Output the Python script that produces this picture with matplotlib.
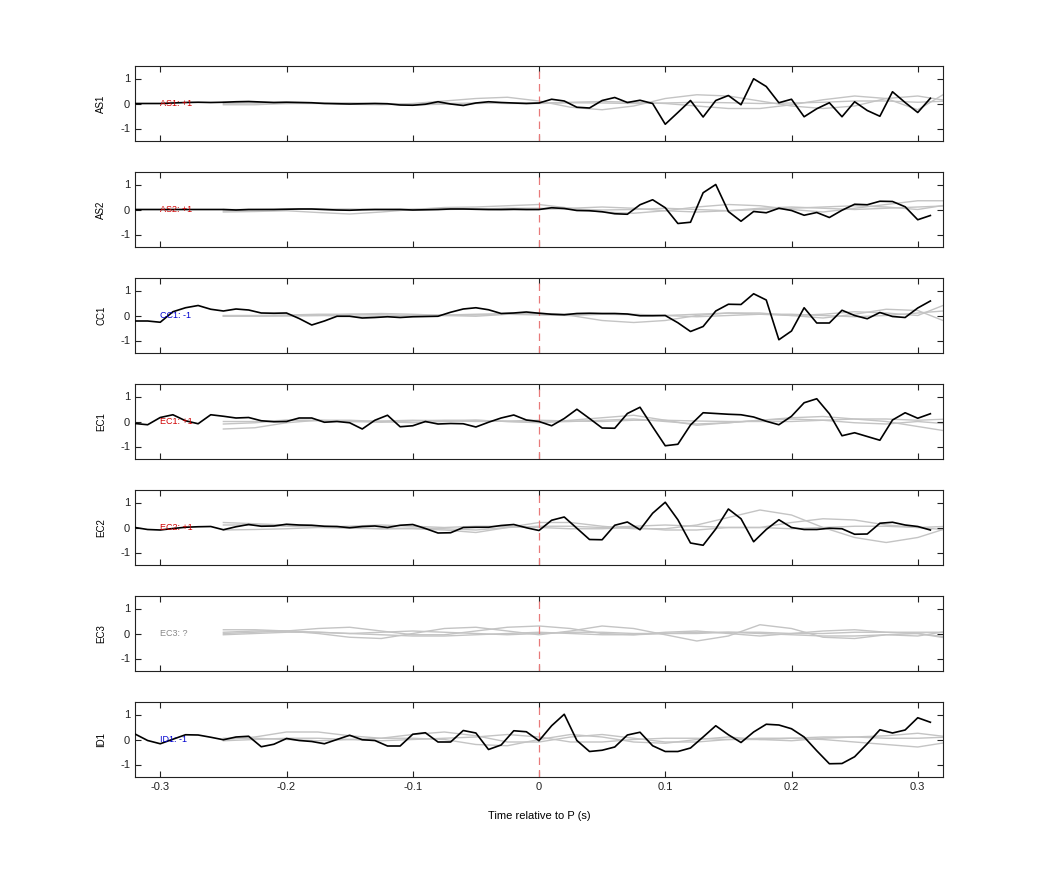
import numpy as np
import matplotlib
matplotlib.use("Agg")
import matplotlib.pyplot as plt

plt.rcParams['font.family'] = ['Liberation Sans', 'DejaVu Sans']
plt.rcParams['axes.unicode_minus'] = False

t_black = np.round(np.arange(-0.32, 0.315, 0.01), 2)
t_gray = np.round(np.arange(-0.25, 0.33, 0.025), 3)

stations = ["AS1", "AS2", "CC1", "EC1", "EC2", "EC3", "ID1"]
labels = ["AS1: +1", "AS2: +1", "CC1: -1", "EC1: +1", "EC2: +1", "EC3: ?", "ID1: -1"]
label_colors = ["#d00000", "#d00000", "#0000d0", "#d00000", "#d00000", "#888888", "#0000d0"]

AS1 = [0,0,0,0.02,0.04,0.05,0.04,0.05,0.07,0.08,0.06,0.04,0.05,0.04,0.03,0.0,-0.01,-0.02,-0.01,0.0,-0.01,-0.06,-0.07,-0.03,0.07,-0.02,-0.08,0.02,0.07,0.04,0.02,0.0,
       0.02,0.17,0.1,-0.15,-0.18,0.12,0.24,0.04,0.13,0,-0.83,-0.36,0.12,-0.54,0.12,0.32,-0.05,0.99,0.68,0.03,0.17,-0.53,-0.21,0.03,-0.53,0.07,-0.28,-0.51,0.47,0.04,-0.36,0.21]
AS2 = [0,0,0,0,0,0,0,0,-0.02,0,0.0,0.0,0.01,0.02,0.02,0.0,-0.02,-0.03,-0.01,0.0,0.0,0.0,-0.02,-0.01,0.0,0.02,0.02,0.01,0.0,0.0,0.01,0.0,
       0,0.07,0.04,-0.04,-0.05,-0.09,-0.17,-0.19,0.19,0.39,0.07,-0.56,-0.51,0.67,1.0,-0.08,-0.47,-0.08,-0.13,0.05,-0.04,-0.23,-0.12,-0.32,-0.03,0.21,0.19,0.33,0.32,0.11,-0.41,-0.24]
CC1 = [-0.22,-0.22,-0.27,0.15,0.31,0.4,0.25,0.18,0.26,0.22,0.1,0.09,0.1,-0.12,-0.38,-0.22,-0.03,-0.03,-0.1,-0.08,-0.05,-0.08,-0.05,-0.04,-0.03,0.13,0.26,0.31,0.23,0.08,0.1,0.14,
       0.09,0.05,0.03,0.08,0.09,0.08,0.08,0.06,-0.01,-0.01,0,-0.29,-0.64,-0.44,0.18,0.45,0.44,0.87,0.62,-0.97,-0.62,0.31,-0.3,-0.3,0.21,0,-0.13,0.12,-0.04,-0.08,0.3,0.58]
EC1 = [-0.08,-0.13,0.16,0.27,0.03,-0.09,0.27,0.21,0.14,0.16,0.03,-0.01,0,0.14,0.14,-0.03,0,-0.05,-0.3,0.05,0.25,-0.21,-0.17,0,-0.1,-0.08,-0.09,-0.22,-0.03,0.14,0.26,0.06,
       0,-0.17,0.12,0.49,0.12,-0.26,-0.27,0.32,0.57,-0.21,-0.97,-0.91,-0.14,0.35,0.32,0.29,0.27,0.18,0.01,-0.13,0.21,0.75,0.91,0.31,-0.57,-0.45,-0.6,-0.75,0.06,0.35,0.13,0.31]
EC2 = [0,-0.08,-0.1,-0.04,0.01,0.03,0.04,-0.09,0.03,0.12,0.05,0.06,0.13,0.1,0.09,0.05,0.04,-0.01,0.04,0.06,0,0.09,0.12,-0.04,-0.22,-0.21,0,0.01,0.01,0.08,0.12,-0.01,
       -0.12,0.29,0.42,-0.03,-0.48,-0.49,0.09,0.22,-0.09,0.57,1.01,0.31,-0.62,-0.71,-0.06,0.74,0.35,-0.57,-0.08,0.31,0,-0.08,-0.08,-0.03,-0.05,-0.27,-0.26,0.17,0.21,0.1,0.04,-0.1]
EC3 = None
ID1 = [0.22,-0.04,-0.17,0.01,0.19,0.18,0.09,-0.01,0.1,0.13,-0.29,-0.19,0.04,-0.04,-0.08,-0.17,0,0.17,-0.01,-0.04,-0.26,-0.26,0.21,0.27,-0.1,-0.1,0.36,0.26,-0.4,-0.22,0.35,0.31,
       -0.05,0.55,1.01,-0.04,-0.48,-0.43,-0.3,0.18,0.29,-0.25,-0.48,-0.48,-0.34,0.1,0.55,0.19,-0.12,0.3,0.61,0.58,0.43,0.1,-0.45,-0.97,-0.96,-0.69,-0.17,0.39,0.26,0.38,0.87,0.69]
black = [AS1, AS2, CC1, EC1, EC2, EC3, ID1]

# gray traces at t_gray (-0.25 ... 0.325)
gray = {
 "AS1": [[0,0.03,0.05,0.03,-0.03,-0.05,0,0.1,0.2,0.25,0.1,-0.15,-0.25,-0.1,0.2,0.35,0.3,0.1,-0.1,-0.2,-0.1,0.2,0.3,0.1],
         [-0.05,-0.05,0,0.03,0.02,-0.03,-0.05,-0.03,0,0.02,0.02,0.05,0.08,0.05,0,-0.1,-0.2,-0.2,-0.05,0.15,0.3,0.2,-0.25,0.5],
         [0.05,0.02,0,0,0.02,0,-0.02,0,0.02,0,0,0.03,0.02,0,0.02,0.05,0.03,0,0.02,0.05,0.1,0.1,0.05,0.1]],
 "AS2": [[-0.1,-0.08,-0.05,-0.12,-0.18,-0.1,0,0.08,0.1,0.15,0.2,0.05,-0.1,-0.15,-0.05,0.1,0.2,0.15,0,-0.1,0.05,0.2,0.35,0.35],
         [-0.05,-0.02,0,0.02,0.02,0,-0.02,0,0.02,0.05,0.05,0.02,-0.02,0,0.05,0,-0.05,0,0.05,0.1,0.15,0.1,0,0.2],
         [0,0,0.02,0,-0.02,0,0.02,0.03,0,-0.02,0,0.05,0.1,0.05,-0.05,-0.1,-0.05,0.05,0.1,0.05,0,0.05,0.1,0.15]],
 "CC1": [[-0.03,-0.03,-0.02,0,0.05,0.08,0.05,0,-0.03,0.05,0.1,0,-0.2,-0.28,-0.2,0,0.1,0.1,0,-0.1,0.05,0.25,0.2,-0.3],
         [0,0,0.02,0.05,0.05,0.03,0,0.02,0.05,0.08,0.08,0.05,0.05,0.03,0,0.05,0.1,0.05,0,0.05,0.15,0.1,0,0.5],
         [-0.02,-0.01,0,0,-0.02,-0.03,0,0,0.02,0.05,0.02,0,0.05,0.05,0,-0.05,0,0.05,0.05,0,-0.05,0,0.1,0.2]],
 "EC1": [[-0.3,-0.25,-0.05,0.05,0.05,0,-0.05,0,0.05,0,-0.05,0.05,0.15,0.25,0.05,-0.15,-0.05,0.05,0.15,0.2,0.1,0,-0.2,-0.4],
         [-0.1,-0.05,0.05,0.05,0.0,-0.03,0.02,0.05,0.05,0,-0.03,0,0.05,0.1,0,-0.1,-0.05,0.05,0.1,0.05,-0.05,-0.1,0,-0.1],
         [0,0,0.05,0.03,0,0.02,0.05,0.03,0,0.02,0.05,0.02,0,0.05,0.05,0.02,0,0,0,0.05,0.1,0.1,0.05,0.1]],
 "EC2": [[0.2,0.15,0.1,0.05,0,-0.05,-0.05,-0.1,-0.2,0,0.2,0.2,0.05,-0.05,-0.05,0.1,0.4,0.7,0.5,0,-0.4,-0.6,-0.4,0],
         [-0.1,-0.08,-0.05,0,-0.03,-0.05,-0.02,-0.05,-0.1,0,0.05,0.05,0,0.05,0.1,0.05,0,0,0.2,0.35,0.3,0.1,0,-0.1],
         [0.1,0.1,0.05,0.02,0.05,0.1,0.05,0,0.05,0.05,0,-0.05,-0.05,0,-0.1,-0.1,0,0,-0.05,0,0.05,0.05,0,0.05]],
 "EC3": [[0.15,0.15,0.1,0,-0.15,-0.2,0,0.2,0.25,0.1,-0.05,0.1,0.3,0.2,-0.05,-0.3,-0.1,0.35,0.2,-0.15,-0.2,-0.05,-0.1,0.1],
         [0.05,0.1,0.1,0.2,0.25,0.1,-0.05,-0.05,0.1,0.25,0.3,0.2,0,-0.05,0.05,0.1,0,-0.1,0,0.1,0.15,0.05,0,-0.15],
         [0,0.05,0.1,0.05,0,0.05,0.1,0.05,0,-0.05,0,0.05,0.05,0,0,0.05,0.05,0,-0.05,-0.1,-0.1,-0.05,0,-0.2],
         [-0.05,0,0.05,0.05,0,-0.05,-0.1,-0.1,-0.05,0,0.05,0,-0.05,-0.05,0,0,0.05,0.05,0,0,0.05,0.05,0.05,0.05]],
 "ID1": [[0,0.1,0.3,0.3,0.15,0.05,0.2,0.3,0.15,-0.1,-0.1,0.1,0.2,0.05,-0.1,-0.1,0,0.05,0.05,0,-0.1,-0.2,-0.3,-0.1],
         [0.05,0.05,0,-0.05,0,0.05,0.05,0,-0.2,-0.25,0,0.2,0.1,-0.1,-0.15,0,0.1,0,-0.05,0.05,0.1,0.15,0.25,0.1],
         [-0.05,0,0.05,0.05,0,-0.05,0,0.05,0.1,0.2,0.1,-0.1,-0.1,0,0.05,0.05,0,0,0.05,0.1,0.1,0.05,0.05,0.1]],
}

fig = plt.figure(figsize=(10.42, 8.75), dpi=100)
W, H = 1042, 875
left, width = 135 / W, 808 / W
tops = [66, 172, 278, 384, 490, 596, 702]
for k, st in enumerate(stations):
    ax = fig.add_axes([left, 1 - (tops[k] + 75) / H, width, 75 / H])
    for g in gray.get(st) or []:
        ax.plot(t_gray, g, color="#c4c4c4", lw=1.0, zorder=1)
    ax.axvline(0, color="#e87a7a", lw=0.9, dashes=(6, 4), zorder=2)
    if black[k] is not None:
        ax.plot(t_black, black[k], color="black", lw=1.2, zorder=3)
    ax.text(-0.30, 0, labels[k], color=label_colors[k], fontsize=6.5, va="center", ha="left", zorder=4)
    ax.set_xlim(-0.32, 0.32)
    ax.set_ylim(-1.5, 1.5)
    ax.set_yticks([-1, 0, 1])
    ax.set_xticks([-0.3, -0.2, -0.1, 0, 0.1, 0.2, 0.3])
    ax.tick_params(direction="in", top=True, right=True, labelsize=8, length=4, colors="#222222")
    ax.set_ylabel(st, fontsize=7, labelpad=10)
    for s in ax.spines.values():
        s.set_color("#222222")
    if k < len(stations) - 1:
        ax.set_xticklabels([])
    else:
        ax.set_xticklabels(["-0.3", "-0.2", "-0.1", "0", "0.1", "0.2", "0.3"])
        ax.set_xlabel("Time relative to P (s)", fontsize=8, labelpad=14)

fig.savefig("out.png", dpi=100)
